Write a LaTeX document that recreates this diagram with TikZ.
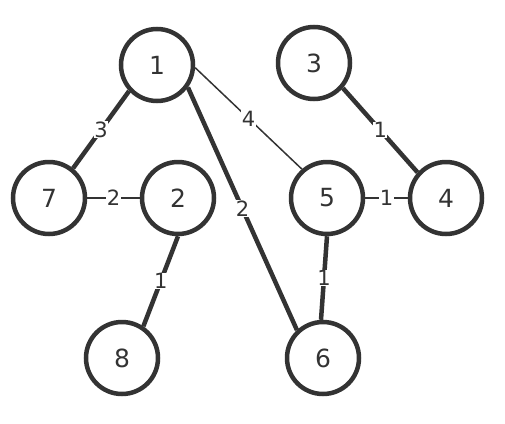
\documentclass[tikz,border=0pt]{standalone}
\usepackage{fontspec}
\setmainfont{DejaVu Sans}
\definecolor{ink}{HTML}{333333}
\begin{document}
\begin{tikzpicture}[x=1pt,y=-1pt,
  vtx/.style={circle,draw=ink,line width=4.5pt,minimum size=72pt,inner sep=0pt,text=ink,font=\fontsize{25}{25}\selectfont},
  heavy/.style={draw=ink,line width=4.5pt},
  light/.style={draw=ink,line width=1.5pt},
  wt/.style={fill=white,inner sep=0.5pt,text=ink,font=\fontsize{21}{21}\selectfont}]
\useasboundingbox (0,0) rectangle (505,423);
\node[vtx] (n1) at (157,65) {1};
\node[vtx] (n3) at (314,63) {3};
\node[vtx] (n7) at (49,198) {7};
\node[vtx] (n2) at (178,198) {2};
\node[vtx] (n5) at (327,198) {5};
\node[vtx] (n4) at (446,198) {4};
\node[vtx] (n8) at (122,358) {8};
\node[vtx] (n6) at (323,358) {6};
\draw[heavy] (n1.223) -- node[wt] {3} (n7.51);
\draw[light] (n7) -- node[wt] {2} (n2);
\draw[light] (n1.-4.5) -- node[wt] {4} (n5.131);
\draw[heavy] (n1.-36.6) -- node[wt] {2} (n6.133);
\draw[heavy] (n3.-41) -- node[wt] {1} (n4.138);
\draw[light] (n5) -- node[wt] {1} (n4);
\draw[heavy] (n5.-90) -- node[wt] {1} (n6.93);
\draw[heavy] (n2.-90) -- node[wt] {1} (n8.56);
\end{tikzpicture}
\end{document}
